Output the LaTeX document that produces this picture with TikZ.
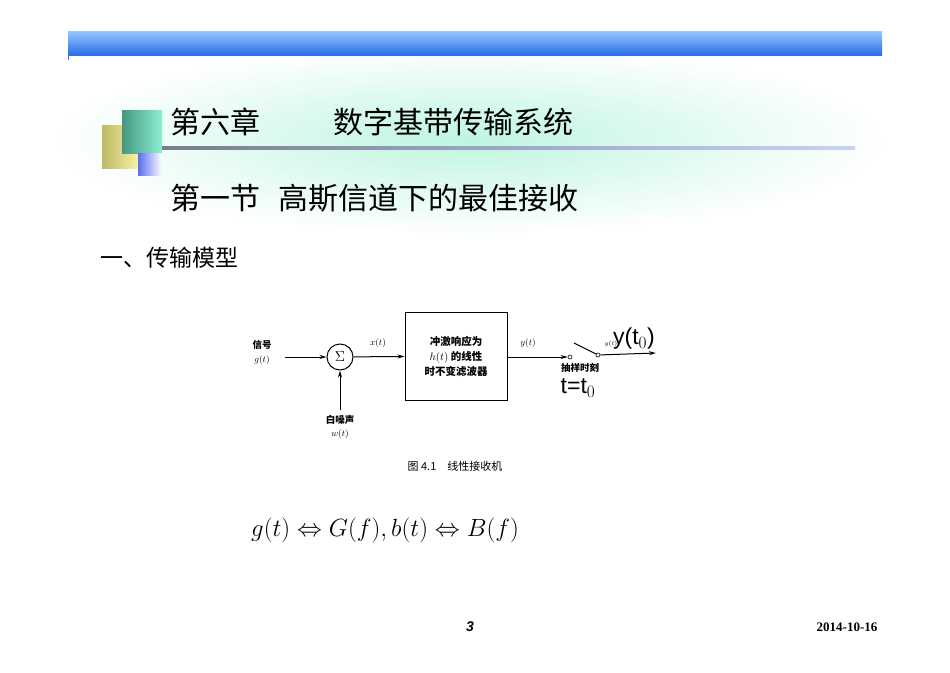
\documentclass[tikz,border=0pt]{standalone}
\usepackage{fontspec}
\setmainfont{Liberation Serif}
\newfontfamily\cjk{Noto Sans CJK SC}
\newfontfamily\sans{Liberation Sans}
\usetikzlibrary{arrows.meta,shadings}
\definecolor{glow}{RGB}{190,245,225}
\definecolor{barT}{RGB}{150,200,255}
\definecolor{barB}{RGB}{40,110,230}
\definecolor{barL}{RGB}{60,120,220}
\definecolor{olA}{RGB}{190,185,100}
\definecolor{olB}{RGB}{250,245,170}
\definecolor{tlA}{RGB}{70,150,130}
\definecolor{tlB}{RGB}{140,240,210}
\definecolor{blA}{RGB}{90,110,240}
\definecolor{ruA}{RGB}{120,125,145}
\definecolor{ruB}{RGB}{200,210,245}
\begin{document}
\begin{tikzpicture}[x=1pt,y=-1pt,
  lbl/.style={inner sep=0pt,font=\fontsize{9.5}{10}\selectfont},
  cj/.style={inner sep=0pt,font=\cjk\bfseries\fontsize{9.5}{11}\selectfont},
  arr/.style={-{Stealth[length=7pt,width=4pt]},line width=1pt},
  ln/.style={line width=1pt}]
\useasboundingbox (0,0) rectangle (950,672);
\fill[white] (0,0) rectangle (950,672);
% glow
\shade[inner color=glow,outer color=white] (470,140) ellipse (420 and 95);
% top bar
\shade[top color=barT,bottom color=barB] (68,31) rectangle (882,55);
\draw[barL,line width=0.6pt] (68,55) -- (68,60);
% squares
\shade[left color=olA,right color=olB] (102,125) rectangle (140,168);
\shade[left color=tlA,right color=tlB] (122,110) rectangle (162,153);
\shade[left color=blA,right color=white] (138,153) rectangle (162,175);
% rule
\shade[left color=ruA,right color=ruB] (162,146.5) rectangle (855,149.5);
% titles
\node[anchor=west,inner sep=0pt,font=\cjk\fontsize{30}{32}\selectfont] (t1) at (170,122) {第六章};
\node[anchor=west,inner sep=0pt,font=\cjk\fontsize{30}{32}\selectfont] (t2) at (333,122) {数字基带传输系统};
\node[anchor=west,inner sep=0pt,font=\cjk\fontsize{30}{32}\selectfont] (t3) at (170,198) {第一节\hspace{0.6em}高斯信道下的最佳接收};
\node[anchor=west,inner sep=0pt,font=\cjk\fontsize{23}{25}\selectfont] (t4) at (100,258) {一、传输模型};
% diagram
\node[cj] (sig) at (262,345) {信号};
\node[lbl] (gt) at (262,360) {$g(t)$};
\coordinate (sin) at (285,357);
\node[draw,circle,minimum size=26pt,inner sep=0pt,line width=1pt] (sum) at (340,357) {\Large$\Sigma$};
\coordinate (nin) at (340,410);
\node[cj] (noise) at (340,420) {白噪声};
\node[lbl] (wt) at (340,434) {$w(t)$};
\node[lbl] (xt) at (378,343) {$x(t)$};
\node[draw,line width=1pt,minimum width=102pt,minimum height=88pt,inner sep=0pt] (box) at (456,356) {};
\node[cj,align=center,font=\cjk\bfseries\fontsize{10.5}{15}\selectfont] (boxt) at (456,356) {冲激响应为\\$h(t)$ 的线性\\时不变滤波器};
\node[lbl] (yt) at (528,343) {$y(t)$};
\node[draw,circle,minimum size=4pt,inner sep=0pt,line width=0.6pt] (s1) at (570,357) {};
\node[draw,circle,minimum size=4pt,inner sep=0pt,line width=0.6pt] (s2) at (598,355) {};
\coordinate (sw) at (574,343);
\coordinate (out) at (656,353);
\draw[arr] (sin) -- (sum);
\draw[arr] (nin) -- (sum);
\draw[arr] (sum) -- (box);
\draw[arr] (box.east |- s1) -- (s1);
\draw[ln] (sw) -- (s2);
\draw[arr] (s2) -- (out);
\node[lbl,font=\fontsize{6}{7}\selectfont] (ytsmall) at (611,344) {$y(t)$};
\node[inner sep=0pt,font=\sans\fontsize{23}{24}\selectfont] (yt0) at (634,339) {y(t$_0$)};
\node[cj] (samp) at (580,368) {抽样时刻};
\node[inner sep=0pt,font=\sans\fontsize{23}{24}\selectfont] (tt0) at (578,388) {t=t$_0$};
\node[cj,font=\cjk\fontsize{11}{12}\selectfont] (cap) at (455,466) {图 4.1\quad 线性接收机};
% formula
\node[inner sep=0pt,font=\fontsize{25}{28}\selectfont] (f) at (385,530) {$g(t)\Leftrightarrow G(f), b(t)\Leftrightarrow B(f)$};
% footer
\node[inner sep=0pt,font=\sans\bfseries\itshape\fontsize{14}{16}\selectfont] (pg) at (470,627) {3};
\node[inner sep=0pt,font=\bfseries\fontsize{13}{15}\selectfont] (dt) at (847,627) {2014-10-16};
\end{tikzpicture}
\end{document}
